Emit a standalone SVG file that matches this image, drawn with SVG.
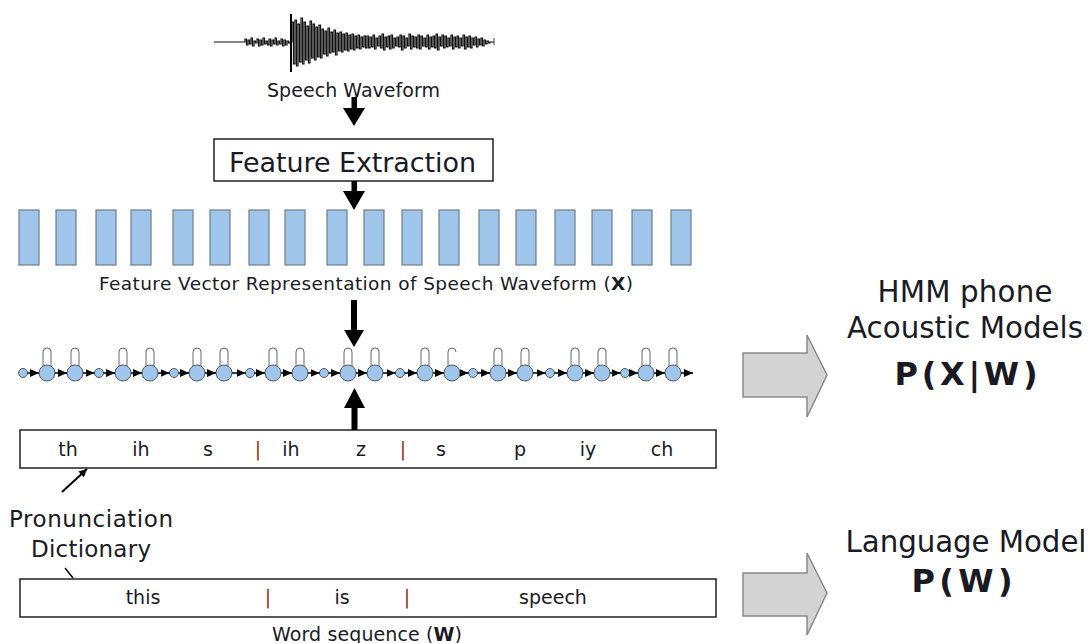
<svg xmlns="http://www.w3.org/2000/svg" width="1090" height="643" viewBox="0 0 1090 643">
<style>
text{font-family:"DejaVu Sans",Verdana,sans-serif;fill:#1a1a24}
.b{font-weight:bold}
.sep{fill:#8b3a1a}
.fv{fill:#9fc6ea;stroke:#6f7c8a;stroke-width:1.2}
.st{fill:#9fc6ea;stroke:#4f5a66;stroke-width:1}
.loop{fill:none;stroke:#666;stroke-width:1}
.tr{stroke:#000;stroke-width:1.5;fill:none;marker-end:url(#ah)}
.box{fill:#fff;stroke:#222;stroke-width:1.5}
.big{fill:#d3d3d3;stroke:#8a8a8a;stroke-width:1.5}
.blk{fill:#000}
</style>
<defs>
<marker id="ah" markerUnits="userSpaceOnUse" markerWidth="10" markerHeight="9" refX="9" refY="4" orient="auto"><path d="M0,0L9,4L0,8z" fill="#000"/></marker>
<marker id="ah2" markerUnits="userSpaceOnUse" markerWidth="10" markerHeight="10" refX="8" refY="4" orient="auto"><path d="M0,0L8,4L0,8z" fill="#000"/></marker>
</defs>
<rect width="1090" height="643" fill="#fff"/>

<g id="waveform">
<path d="M214,42H245V39h1.5V45h1.5V40h1.5V44h1.5V38h1.5V46h1.5V41h1.5V43h1.5V39h1.5V46h1.5V40h1.5V45h1.5V38h1.5V44h1.5V41h1.5V45h1.5V39h1.5V46h1.5V40h1.5V44h1.5V38h1.5V45h1.5V41h1.5V44h1.5V39h1.5V46h1.5V40h1.5V45h1.5V41h1.5V43h1.5V42H292V22h1.5V64h1.5V20h1.5V66h1.5V24h1.5V62h1.5V18h1.5V64h1.5V22h1.5V60h1.5V26h1.5V63h1.5V21h1.5V58h1.5V24h1.5V60h1.5V27h1.5V57h1.5V25h1.5V58h1.5V29h1.5V54h1.5V31h1.5V56h1.5V28h1.5V53h1.5V32h1.5V52h1.5V30h1.5V55h1.5V33h1.5V51h1.5V32h1.5V52h1.5V34h1.5V50h1.5V33h1.5V51h1.5V35h1.5V49h1.5V34h1.5V50h1.5V36h1.5V48h1.5V35h1.5V49h1.5V37h1.5V47h1.5V36h1.5V48h1.5V36h1.5V48h1.5V37h1.5V47h1.5V35h1.5V49h1.5V38h1.5V46h1.5V36h1.5V48h1.5V34h1.5V50h1.5V37h1.5V47h1.5V36h1.5V49h1.5V35h1.5V48h1.5V38h1.5V46h1.5V37h1.5V47h1.5V35h1.5V50h1.5V36h1.5V48h1.5V38h1.5V46h1.5V34h1.5V49h1.5V36h1.5V47h1.5V37h1.5V48h1.5V35h1.5V49h1.5V36h1.5V46h1.5V38h1.5V47h1.5V35h1.5V49h1.5V37h1.5V47h1.5V36h1.5V48h1.5V34h1.5V50h1.5V37h1.5V46h1.5V35h1.5V48h1.5V36h1.5V47h1.5V38h1.5V46h1.5V35h1.5V49h1.5V37h1.5V47h1.5V36h1.5V48h1.5V38h1.5V46h1.5V35h1.5V49h1.5V37h1.5V47h1.5V36h1.5V48h1.5V38h1.5V45h1.5V37h1.5V47h1.5V39h1.5V45h1.5V38h1.5V46h1.5V40h1.5V44h1.5V41h1.5V43h1.5V42H494" fill="none" stroke="#111" stroke-width="1.2"/>
<path d="M291,14V72" stroke="#000" stroke-width="2"/>
<path d="M494,38V45" stroke="#444" stroke-width="1"/>
<text x="267" y="97" font-size="19" textLength="173">Speech Waveform</text>
</g>

<g id="feature-extraction">
<rect class="box" x="214" y="139" width="279" height="42"/>
<text x="229" y="172" font-size="27" textLength="247">Feature Extraction</text>
</g>

<g id="feature-vectors">
<rect class="fv" x="19" y="210" width="20" height="55"/>
<rect class="fv" x="56" y="210" width="20" height="55"/>
<rect class="fv" x="96" y="210" width="20" height="55"/>
<rect class="fv" x="131" y="210" width="20" height="55"/>
<rect class="fv" x="173" y="210" width="20" height="55"/>
<rect class="fv" x="210" y="210" width="20" height="55"/>
<rect class="fv" x="249" y="210" width="20" height="55"/>
<rect class="fv" x="285" y="210" width="20" height="55"/>
<rect class="fv" x="327" y="210" width="20" height="55"/>
<rect class="fv" x="364" y="210" width="20" height="55"/>
<rect class="fv" x="402" y="210" width="20" height="55"/>
<rect class="fv" x="439" y="210" width="20" height="55"/>
<rect class="fv" x="479" y="210" width="20" height="55"/>
<rect class="fv" x="516" y="210" width="20" height="55"/>
<rect class="fv" x="555" y="210" width="20" height="55"/>
<rect class="fv" x="592" y="210" width="20" height="55"/>
<rect class="fv" x="632" y="210" width="20" height="55"/>
<rect class="fv" x="671" y="210" width="20" height="55"/>
<text x="99" y="290" font-size="18.5" textLength="534">Feature Vector Representation of Speech Waveform (<tspan class="b">X</tspan>)</text>
</g>

<g id="hmm-chain">
<path class="loop" d="M43,366V352A4,4 0 0 1 51,352V366M71,366V352A4,4 0 0 1 79,352V366M119,366V352A4,4 0 0 1 127,352V366M146,366V352A4,4 0 0 1 154,352V366M193,366V352A4,4 0 0 1 201,352V366M220,366V352A4,4 0 0 1 228,352V366M269,366V352A4,4 0 0 1 277,352V366M296,366V352A4,4 0 0 1 304,352V366M344,366V352A4,4 0 0 1 352,352V366M371,366V352A4,4 0 0 1 379,352V366M421,366V352A4,4 0 0 1 429,352V366M448,366V352A4,4 0 0 1 456,352M494,366V352A4,4 0 0 1 502,352V366M521,366V352A4,4 0 0 1 529,352V366M571,366V352A4,4 0 0 1 579,352V366M598,366V352A4,4 0 0 1 606,352V366M642,366V352A4,4 0 0 1 650,352V366M669,366V352A4,4 0 0 1 677,352V366"/>
<circle class="st" cx="23" cy="373" r="4.5"/>
<circle class="st" cx="47" cy="373" r="8"/>
<circle class="st" cx="75" cy="373" r="8"/>
<circle class="st" cx="99" cy="373" r="4.5"/>
<circle class="st" cx="123" cy="373" r="8"/>
<circle class="st" cx="150" cy="373" r="8"/>
<circle class="st" cx="174" cy="373" r="4.5"/>
<circle class="st" cx="197" cy="373" r="8"/>
<circle class="st" cx="224" cy="373" r="8"/>
<circle class="st" cx="250" cy="373" r="4.5"/>
<circle class="st" cx="273" cy="373" r="8"/>
<circle class="st" cx="300" cy="373" r="8"/>
<circle class="st" cx="324" cy="373" r="4.5"/>
<circle class="st" cx="348" cy="373" r="8"/>
<circle class="st" cx="375" cy="373" r="8"/>
<circle class="st" cx="400" cy="373" r="4.5"/>
<circle class="st" cx="425" cy="373" r="8"/>
<circle class="st" cx="452" cy="373" r="8"/>
<circle class="st" cx="473" cy="373" r="4.5"/>
<circle class="st" cx="498" cy="373" r="8"/>
<circle class="st" cx="525" cy="373" r="8"/>
<circle class="st" cx="550" cy="373" r="4.5"/>
<circle class="st" cx="575" cy="373" r="8"/>
<circle class="st" cx="602" cy="373" r="8"/>
<circle class="st" cx="625" cy="373" r="4.5"/>
<circle class="st" cx="646" cy="373" r="8"/>
<circle class="st" cx="673" cy="373" r="8"/>
</g>

<g id="phone-box">
<rect class="box" x="20" y="430" width="696" height="38"/>
<g font-size="19" text-anchor="middle">
<text x="68" y="456">th</text>
<text x="141" y="456">ih</text>
<text x="208" y="456">s</text>
<text class="sep" x="258" y="456">|</text>
<text x="291" y="456">ih</text>
<text x="361" y="456">z</text>
<text class="sep" x="403" y="456">|</text>
<text x="441" y="456">s</text>
<text x="520" y="456">p</text>
<text x="588" y="456">iy</text>
<text x="662" y="456">ch</text>
</g>
</g>

<g id="pronunciation-dictionary">
<text x="9" y="527" font-size="23" textLength="164">Pronunciation</text>
<text x="31" y="557" font-size="23" textLength="120">Dictionary</text>
</g>

<g id="word-box">
<rect class="box" x="20" y="579" width="696" height="38"/>
<g font-size="19" text-anchor="middle">
<text x="143" y="604">this</text>
<text class="sep" x="268" y="604">|</text>
<text x="342" y="604">is</text>
<text class="sep" x="407" y="604">|</text>
<text x="553" y="604">speech</text>
</g>
<text x="272" y="641" font-size="19" textLength="190">Word sequence (<tspan class="b">W</tspan>)</text>
</g>

<g id="acoustic-models">
<text x="965" y="302" font-size="29.3" text-anchor="middle" textLength="175">HMM phone</text>
<text x="965" y="338" font-size="29.3" text-anchor="middle" textLength="236">Acoustic Models</text>
<text class="b" x="966" y="385" font-size="32" text-anchor="middle" textLength="143">P(X|W)</text>
</g>

<g id="language-model">
<text x="966" y="552" font-size="29.3" text-anchor="middle" textLength="241">Language Model</text>
<text class="b" x="962" y="592" font-size="32" text-anchor="middle" textLength="101">P(W)</text>
</g>

<g id="connectors">
<path class="blk" d="M351.5,97H357V108H365L354,126L343,108H351.5Z"/>
<path class="blk" d="M351.5,181H357V191H365L354,210L343,191H351.5Z"/>
<path class="blk" d="M351,300H357V330H364L354,347L344,330H351Z"/>
<path class="blk" d="M351.5,430H357.5V408H365L354.5,388L344,408H351.5Z"/>
<path class="tr" d="M27.5,373H39"/>
<path class="tr" d="M55,373H67"/>
<path class="tr" d="M83,373H94.5"/>
<path class="tr" d="M103.5,373H115"/>
<path class="tr" d="M131,373H142"/>
<path class="tr" d="M158,373H169.5"/>
<path class="tr" d="M178.5,373H189"/>
<path class="tr" d="M205,373H216"/>
<path class="tr" d="M232,373H245.5"/>
<path class="tr" d="M254.5,373H265"/>
<path class="tr" d="M281,373H292"/>
<path class="tr" d="M308,373H319.5"/>
<path class="tr" d="M328.5,373H340"/>
<path class="tr" d="M356,373H367"/>
<path class="tr" d="M383,373H395.5"/>
<path class="tr" d="M404.5,373H417"/>
<path class="tr" d="M433,373H444"/>
<path class="tr" d="M460,373H468.5"/>
<path class="tr" d="M477.5,373H490"/>
<path class="tr" d="M506,373H517"/>
<path class="tr" d="M533,373H545.5"/>
<path class="tr" d="M554.5,373H567"/>
<path class="tr" d="M583,373H594"/>
<path class="tr" d="M610,373H620.5"/>
<path class="tr" d="M629.5,373H638"/>
<path class="tr" d="M654,373H665"/>
<path class="tr" d="M681,373H693"/>
<path d="M62,492L87,469" stroke="#000" stroke-width="2" fill="none" marker-end="url(#ah2)"/>
<path d="M65,568L73,578" stroke="#000" stroke-width="1.5" fill="none"/>
<path class="big" d="M743,353H807V335L827,375L807,417V397H743Z"/>
<path class="big" d="M743,573H807V553L827,593L807,635V616H743Z"/>
</g>
</svg>
